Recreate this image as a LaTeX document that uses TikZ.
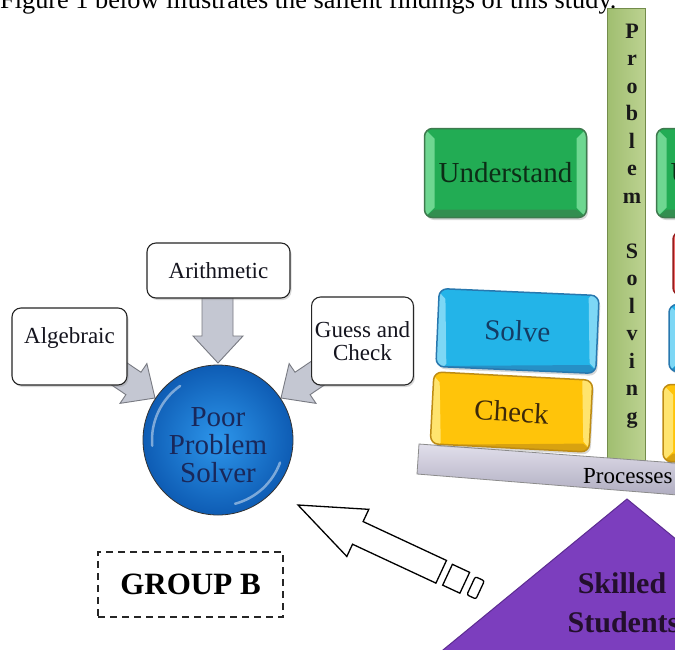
\documentclass[tikz,border=0pt]{standalone}
\usepackage{fontspec}
\setmainfont{Liberation Serif}
\usetikzlibrary{shadows,shapes.geometric}
\newcommand{\fsz}[2]{\fontsize{#1}{#2}\selectfont}
\definecolor{ugreen}{RGB}{34,172,84}
\definecolor{ugreendk}{RGB}{62,122,78}
\definecolor{ugreenlt}{RGB}{110,215,145}
\definecolor{utext}{RGB}{12,45,22}
\definecolor{sblue}{RGB}{35,180,232}
\definecolor{sbluedk}{RGB}{40,120,175}
\definecolor{sbluelt}{RGB}{125,215,245}
\definecolor{stext}{RGB}{20,60,100}
\definecolor{cyel}{RGB}{255,196,10}
\definecolor{cyeldk}{RGB}{190,140,20}
\definecolor{cyellt}{RGB}{255,228,110}
\definecolor{ctext}{RGB}{60,40,10}
\definecolor{rred}{RGB}{215,30,35}
\definecolor{rreddk}{RGB}{150,30,30}
\definecolor{rredlt}{RGB}{240,110,110}
\definecolor{barl}{RGB}{160,190,112}
\definecolor{barr}{RGB}{188,210,145}
\definecolor{bardk}{RGB}{115,140,75}
\definecolor{purp}{RGB}{124,62,190}
\definecolor{purpdk}{RGB}{92,44,145}
\definecolor{skilltext}{RGB}{35,15,45}
\definecolor{poortext}{RGB}{25,40,90}
\definecolor{darktext}{RGB}{20,20,30}
\definecolor{slabtop}{RGB}{225,223,235}
\definecolor{slabbot}{RGB}{175,172,192}
\definecolor{arrowfill}{RGB}{196,199,210}
\definecolor{arrowedge}{RGB}{120,122,130}
\tikzset{
  bevel/.style n args={3}{rounded corners=8pt, fill=#1, draw=#2, line width=1.5pt,
    drop shadow={opacity=0.3, shadow xshift=1.5pt, shadow yshift=-2.5pt},
    path picture={
      \path (path picture bounding box.north west) coordinate (bNW)
            (path picture bounding box.south west) coordinate (bSW)
            (path picture bounding box.north east) coordinate (bNE)
            (path picture bounding box.south east) coordinate (bSE);
      \fill[#3, sharp corners] (bNW) -- (bSW) -- ([shift={(10pt,10pt)}]bSW) -- ([shift={(10pt,-10pt)}]bNW) -- cycle;
      \fill[#3, sharp corners] (bNE) -- (bSE) -- ([shift={(-10pt,10pt)}]bSE) -- ([shift={(-10pt,-10pt)}]bNE) -- cycle;
      \fill[#2!60!#1, sharp corners] (bSW) -- (bSE) -- ([shift={(-10pt,8pt)}]bSE) -- ([shift={(10pt,8pt)}]bSW) -- cycle;
    }},
  wbox/.style={draw=black!85, line width=1.1pt, rounded corners=9pt, fill=white,
    drop shadow={opacity=0.3, shadow xshift=1.5pt, shadow yshift=-2pt}},
  blockarrow/.style={draw=arrowedge, line width=0.9pt, fill=arrowfill},
  hollow/.style={draw=black, line width=1.3pt, fill=white, line join=miter},
  bigtxt/.style={font=\fsz{29}{30}},
  lefttxt/.style={font=\fsz{23}{23}, text=darktext, align=center},
  psletter/.style={font=\bfseries\fsz{22}{22}, text=black!90, anchor=base, inner sep=0pt}
}
\begin{document}
\begin{tikzpicture}[x=1pt, y=-1pt]
\useasboundingbox (0,0) rectangle (675,649);
\clip (0,0) rectangle (675,649);
\fill[white] (0,0) rectangle (675,649);

% header
\node[anchor=base west, inner sep=0pt, font=\fsz{26.3}{28}] (hdr) at (0,8) {Figure 1 below illustrates the salient findings of this study.};

% vertical bar
\node[draw=bardk, line width=0.8pt, left color=barl, right color=barr, minimum width=38pt, minimum height=452pt, inner sep=0pt] (bar) at (626,234) {};
\foreach \c [count=\i from 0] in {P,r,o,b,l,e,m,{},S,o,l,v,i,n,g}{
  \node[psletter] (ps\i) at (632,{38+27.5*\i}) {\c};
}

% slab
\shade[top color=slabtop, bottom color=slabbot, draw=black!45, line width=0.8pt] (419,444) -- (690,464) -- (690,496) -- (417,474) -- cycle;
\node[anchor=base west, inner sep=0pt, font=\fsz{23}{23}, text=black] (proc) at (583,483) {Processes};

% colored boxes
\node[bevel={ugreen}{ugreendk}{ugreenlt}, minimum width=162pt, minimum height=89pt, bigtxt, text=utext] (und) at (505.5,173) {Understand};
\node[bevel={ugreen}{ugreendk}{ugreenlt}, minimum width=162pt, minimum height=89pt, bigtxt, text=utext] (und2) at (737.5,173) {Understand};
\node[bevel={rred}{rreddk}{rredlt}, minimum width=162pt, minimum height=64pt] (plan2) at (754,263.5) {};
\node[bevel={sblue}{sbluedk}{sbluelt}, minimum width=162pt, minimum height=67pt] (solve2) at (750,338) {};
\node[bevel={cyel}{cyeldk}{cyellt}, minimum width=162pt, minimum height=77pt] (check2) at (744,423) {};
\node[bevel={sblue}{sbluedk}{sbluelt}, rotate=-2.5, minimum width=160pt, minimum height=78pt, bigtxt, text=stext] (solve) at (517.5,331) {Solve};
\node[bevel={cyel}{cyeldk}{cyellt}, rotate=-3, minimum width=159pt, minimum height=72pt, bigtxt, text=ctext] (check) at (511.5,412) {Check};

% triangle
\fill[purp, draw=purpdk, line width=1pt] (627,499) -- (822,659) -- (432,659) -- cycle;
\node[font=\bfseries\fsz{30}{30}, text=skilltext] (skill) at (622,583) {Skilled};
\node[font=\bfseries\fsz{30}{30}, text=skilltext] (stud) at (623.5,622) {Students};

% big hollow arrow
\begin{scope}[shift={(298,505)}, rotate=-25]
  \draw[hollow] (0,0) -- (66,-26) -- (66,-12.5) -- (158,-12.5) -- (158,12.5) -- (66,12.5) -- (66,26) -- cycle;
  \draw[hollow] (165,-11.5) rectangle (184,11.5);
  \draw[hollow, rounded corners=2pt] (191,-10) rectangle (201,10);
\end{scope}

% small block arrows
\path[blockarrow] (202,290) -- (233,290) -- (233,336) -- (243,336) -- (218,363) -- (193,336) -- (202,336) -- cycle;
\begin{scope}[shift={(155,398)}, rotate=-34]
  \path[blockarrow] (0,0) -- (-26,-24) -- (-26,-13.5) -- (-70,-13.5) -- (-70,13.5) -- (-26,13.5) -- (-26,24) -- cycle;
\end{scope}
\begin{scope}[shift={(281,398)}, rotate=-146]
  \path[blockarrow] (0,0) -- (-26,-24) -- (-26,-13.5) -- (-70,-13.5) -- (-70,13.5) -- (-26,13.5) -- (-26,24) -- cycle;
\end{scope}

% white boxes
\node[wbox, minimum width=143pt, minimum height=55pt, lefttxt] (arith) at (218.5,270.5) {Arithmetic};
\node[wbox, minimum width=115pt, minimum height=77pt] (alg) at (69.5,346.5) {};
\node[lefttxt] (algt) at (69.5,338) {Algebraic};
\node[wbox, minimum width=101pt, minimum height=88pt, lefttxt] (guess) at (362.5,341) {Guess and\\Check};

% circle
\node[circle, minimum size=150pt, inner sep=0pt, draw=black!80, line width=0.8pt,
      inner color={rgb,255:red,45;green,150;blue,235}, outer color={rgb,255:red,14;green,92;blue,180}] (poor) at (218,440) {};
\draw[white, opacity=0.45, line width=2.5pt, line cap=round] ([shift={(125:66pt)}]poor.center) arc[start angle=125, end angle=185, radius=66pt];
\draw[white, opacity=0.45, line width=2.5pt, line cap=round] ([shift={(-75:66pt)}]poor.center) arc[start angle=-75, end angle=-20, radius=66pt];
\node[font=\fsz{29}{28}, text=poortext, align=center] (poortxt) at (218,445) {Poor\\Problem\\Solver};

% group B
\node[draw=black!85, line width=1.8pt, dash pattern=on 7pt off 5pt, minimum width=185pt, minimum height=65pt, font=\bfseries\fsz{31}{31}, text=black] (grp) at (190.5,584.5) {GROUP B};
\end{tikzpicture}
\end{document}
